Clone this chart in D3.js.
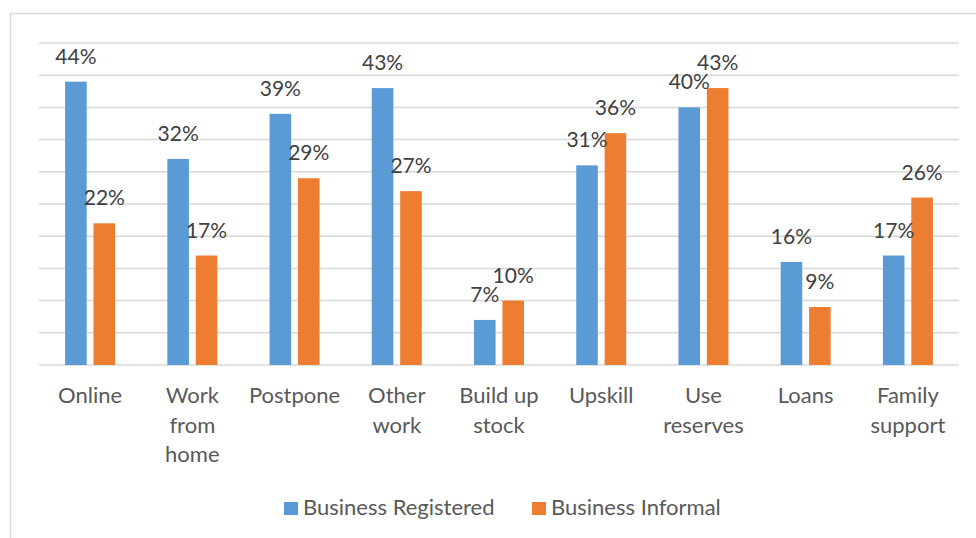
<!DOCTYPE html>
<html>
<head>
<meta charset="utf-8">
<script src="https://cdn.jsdelivr.net/npm/d3@7/dist/d3.min.js"></script>
<style>
  html, body { margin: 0; padding: 0; background: #fff; }
  svg { display: block; font-family: Lato, "Open Sans", sans-serif; }
</style>
</head>
<body>
<svg id="chart" width="976" height="538"></svg>
<script>
// Coping strategies by business type (share of respondents, %)
const categories = [
  ["Online"],
  ["Work", "from", "home"],
  ["Postpone"],
  ["Other", "work"],
  ["Build up", "stock"],
  ["Upskill"],
  ["Use", "reserves"],
  ["Loans"],
  ["Family", "support"]
];
const seriesNames = ["Business Registered", "Business Informal"];
const registered = [44, 32, 39, 43, 7, 31, 40, 16, 17];
const informal   = [22, 17, 29, 27, 10, 36, 43, 9, 26];
const gridTicks  = [0, 5, 10, 15, 20, 25, 30, 35, 40, 45, 50];
const colors = ["#5B9BD5", "#ED7D31"];

const svg = d3.select("#chart");
const W = 976, H = 538;

// chart area frame
svg.append("rect")
  .attr("x", 10.5).attr("y", 13.5)
  .attr("width", W + 10).attr("height", H + 10)
  .attr("fill", "#fff").attr("stroke", "#d9d9d9").attr("stroke-width", 1.5);

const plot = { left: 39, right: 959, top: 43, bottom: 365 };

const keys = categories.map(c => c.join(" "));
const x0 = d3.scaleBand().domain(keys).range([plot.left, plot.right]).padding(0);
const x1 = d3.scaleBand().domain(seriesNames).range([-25, 25]).paddingInner(0.24);
const y = d3.scaleLinear().domain([0, 50]).range([plot.bottom, plot.top]);

// horizontal gridlines
svg.append("g").selectAll("line").data(gridTicks).join("line")
  .attr("x1", plot.left).attr("x2", plot.right)
  .attr("y1", d => y(d)).attr("y2", d => y(d))
  .attr("stroke", "#d9d9d9").attr("stroke-width", 1.5);

const rows = keys.map((k, i) => ({ key: k, vals: [registered[i], informal[i]] }));

const groups = svg.append("g").selectAll("g").data(rows).join("g")
  .attr("transform", d => `translate(${x0(d.key) + x0.bandwidth() / 2},0)`);

groups.selectAll("rect").data(d => d.vals.map((v, j) => ({ s: seriesNames[j], v, j })))
  .join("rect")
  .attr("x", d => x1(d.s))
  .attr("width", x1.bandwidth())
  .attr("y", d => y(d.v))
  .attr("height", d => y(0) - y(d.v))
  .attr("fill", d => colors[d.j]);

// value labels
groups.selectAll("text.val").data(d => d.vals.map((v, j) => ({ s: seriesNames[j], v, j })))
  .join("text")
  .attr("class", "val")
  .attr("x", d => x1(d.s) + x1.bandwidth() / 2)
  .attr("y", d => y(d.v) - 18)
  .attr("text-anchor", "middle")
  .attr("fill", "#404040")
  .style("font-size", "21px")
  .text(d => d.v + "%");

// category labels
const cat = svg.append("g").selectAll("text").data(categories).join("text")
  .attr("x", (d, i) => x0(keys[i]) + x0.bandwidth() / 2)
  .attr("y", 403)
  .attr("text-anchor", "middle")
  .attr("fill", "#595959")
  .style("font-size", "22px");
cat.selectAll("tspan").data(d => d).join("tspan")
  .attr("x", function () { return d3.select(this.parentNode).attr("x"); })
  .attr("dy", (d, i) => i === 0 ? 0 : 29.5)
  .text(d => d);

// legend
const legendItems = [
  { name: seriesNames[0], color: colors[0], x: 284 },
  { name: seriesNames[1], color: colors[1], x: 532 }
];
const lg = svg.append("g").selectAll("g").data(legendItems).join("g")
  .attr("transform", d => `translate(${d.x},0)`);
lg.append("rect").attr("x", 0).attr("y", 502).attr("width", 14).attr("height", 13)
  .attr("fill", d => d.color);
lg.append("text").attr("x", 19).attr("y", 515)
  .attr("fill", "#595959").style("font-size", "22px")
  .text(d => d.name);
</script>
</body>
</html>
